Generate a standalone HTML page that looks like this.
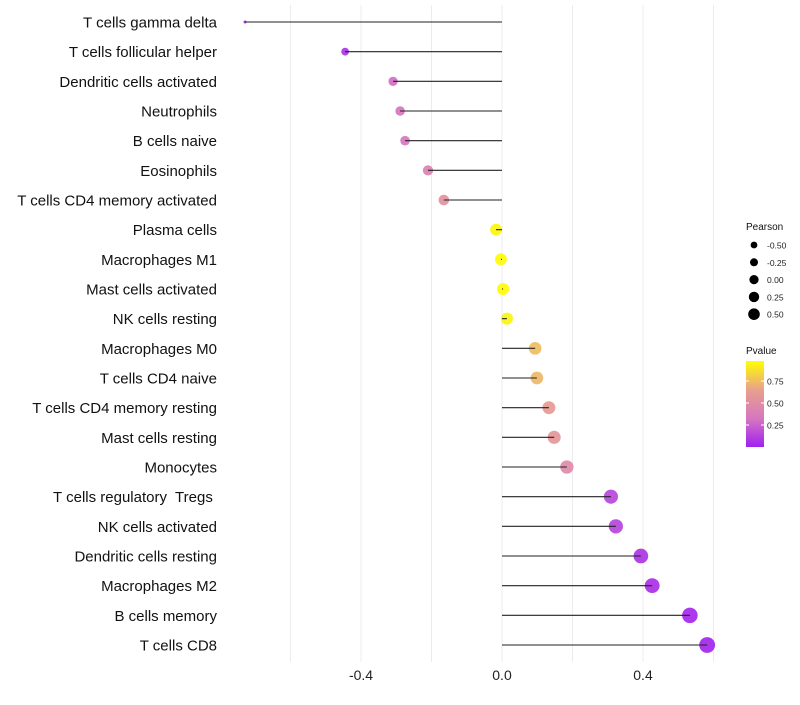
<!DOCTYPE html>
<html><head><meta charset="utf-8"><style>
body{margin:0;background:#fff;}
svg text{font-family:"Liberation Sans",sans-serif;white-space:pre;}
</style></head><body>
<svg id="chart" width="800" height="700"></svg>
<script>
const categories=["T cells gamma delta","T cells follicular helper","Dendritic cells activated","Neutrophils","B cells naive","Eosinophils","T cells CD4 memory activated","Plasma cells","Macrophages M1","Mast cells activated","NK cells resting","Macrophages M0","T cells CD4 naive","T cells CD4 memory resting","Mast cells resting","Monocytes","T cells regulatory  Tregs ","NK cells activated","Dendritic cells resting","Macrophages M2","B cells memory","T cells CD8"];
const pearson=[-0.729,-0.445,-0.309,-0.289,-0.275,-0.21,-0.165,-0.017,-0.003,0.003,0.014,0.094,0.099,0.133,0.148,0.184,0.309,0.323,0.394,0.426,0.533,0.582];
const pvalue=[0.03,0.08,0.3,0.32,0.33,0.42,0.55,0.97,0.99,0.99,0.96,0.77,0.75,0.62,0.58,0.48,0.15,0.14,0.08,0.06,0.03,0.02];
const xTicks=[-0.4,0.0,0.4];
const gridVals=[-0.6,-0.4,-0.2,0,0.2,0.4,0.6];
const legendSizes=[-0.5,-0.25,0,0.25,0.5];
const legendP=[0.75,0.5,0.25];
const NS="http://www.w3.org/2000/svg";
const svg=document.getElementById('chart');
function mk(t,a,p){const e=document.createElementNS(NS,t);for(const k in a)e.setAttribute(k,a[k]);(p||svg).appendChild(e);return e;}
const x=v=>502+v*352.5;
const y=i=>22+i*29.667;
const pmin=Math.min(...pearson);
const r=v=>Math.sqrt(2.25+46*(v-pmin));
function col(p){const s=[[160,32,240],[215,120,190],[232,160,140],[255,255,0]];const t=Math.min(1,Math.max(0,p))*3;const i=Math.min(2,Math.floor(t));const f=t-i;const c=s[i].map((a,k)=>Math.round(a+(s[i+1][k]-a)*f));return `rgb(${c})`;}
gridVals.forEach(v=>{const g=mk('line',{x1:x(v),x2:x(v),y1:5,y2:662,stroke:'#ececec','stroke-width':1});

});
xTicks.forEach(v=>{const t=mk('text',{x:x(v),y:680,'text-anchor':'middle','font-size':14,fill:'#222'});t.textContent=v.toFixed(1);

});
categories.forEach((c,i)=>{const t=mk('text',{x:217,y:y(i)+5.5,'text-anchor':'end','font-size':15,fill:'#111'});t.textContent=c;


const d=mk('circle',{cx:x(pearson[i]),cy:y(i),r:r(pearson[i]),fill:col(pvalue[i]),'fill-opacity':0.92});


const l=mk('line',{x1:x(pearson[i]),x2:x(0),y1:y(i),y2:y(i),stroke:'#222','stroke-width':1.1});

});
let t=mk('text',{x:746,y:230,'font-size':10,fill:'#111'});t.textContent='Pearson';


legendSizes.forEach((v,i)=>{const cy=245+i*17.3;const c=mk('circle',{cx:754,cy:cy,r:4.6+v*2.4,fill:'#000'});


const tt=mk('text',{x:767,y:cy+3.5,'font-size':8.5,fill:'#222'});tt.textContent=v.toFixed(2);

});
t=mk('text',{x:746,y:354,'font-size':10,fill:'#111'});t.textContent='Pvalue';


const defs=mk('defs',{});const lg=mk('linearGradient',{id:'pg',x1:0,y1:1,x2:0,y2:0},defs);
[0,0.33,0.66,1].forEach(o=>mk('stop',{offset:o,'stop-color':col(o)},lg));
const bar=mk('rect',{x:746,y:361,width:18,height:86,fill:'url(#pg)'});


legendP.forEach(p=>{const cy=447-p*88;mk('line',{x1:746,x2:749,y1:cy,y2:cy,stroke:'#fff'});mk('line',{x1:761,x2:764,y1:cy,y2:cy,stroke:'#fff'});
const tt=mk('text',{x:767,y:cy+3.5,'font-size':8.5,fill:'#222'});tt.textContent=p.toFixed(2);

});
</script>
</body></html>
